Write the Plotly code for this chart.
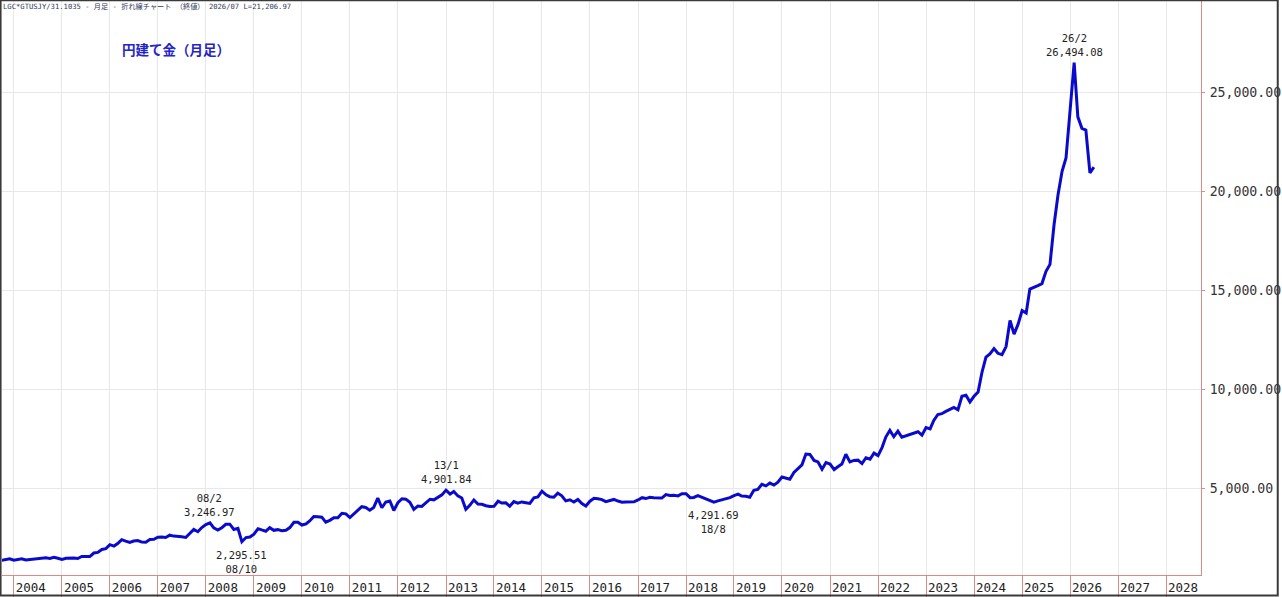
import pandas as pd
import plotly.graph_objects as go

# Data: gold priced in yen per gram (LGC*GTUSJY/31.1035), monthly close, 2003/10 - 2026/07
close_2003 = [1355, 1400, 1435]
close_2004 = [1360, 1390, 1430, 1370, 1390, 1380, 1405, 1430, 1480, 1455, 1505, 1460]
close_2005 = [1405, 1460, 1475, 1470, 1445, 1550, 1545, 1545, 1725, 1755, 1905, 1945]
close_2006 = [2145, 2075, 2200, 2400, 2325, 2260, 2330, 2355, 2275, 2270, 2405, 2420]
close_2007 = [2520, 2535, 2510, 2625, 2580, 2575, 2545, 2510, 2740, 2920, 2800, 3010]
close_2008 = [3160, 3246.97, 2995, 2885, 3005, 3175, 3180, 2915, 2970, 2295.51, 2505, 2535]
close_2009 = [2680, 2955, 2890, 2825, 3005, 2870, 2905, 2855, 2875, 3010, 3280, 3280]
close_2010 = [3140, 3195, 3345, 3565, 3560, 3535, 3285, 3375, 3510, 3510, 3730, 3705]
close_2011 = [3515, 3710, 3845, 4065, 4025, 3890, 4025, 4500, 4010, 4300, 4355, 3875]
close_2012 = [4265, 4465, 4445, 4290, 3930, 4100, 4075, 4255, 4440, 4410, 4545, 4660]
close_2013 = [4901.84, 4700, 4835, 4610, 4500, 3930, 4130, 4405, 4195, 4185, 4115, 4070]
close_2014 = [4080, 4340, 4250, 4260, 4090, 4320, 4240, 4305, 4265, 4230, 4510, 4560]
close_2015 = [4850, 4665, 4570, 4545, 4750, 4615, 4360, 4415, 4300, 4430, 4220, 4100]
close_2016 = [4340, 4485, 4470, 4425, 4320, 4385, 4430, 4350, 4290, 4300, 4320, 4310]
close_2017 = [4405, 4520, 4475, 4540, 4515, 4490, 4500, 4675, 4630, 4640, 4610, 4720]
close_2018 = [4720, 4520, 4530, 4620, 4545, 4460, 4400, 4291.69, 4360, 4410, 4460, 4520]
close_2019 = [4625, 4700, 4605, 4595, 4545, 4890, 4940, 5195, 5115, 5255, 5155, 5300]
close_2020 = [5565, 5500, 5450, 5795, 5995, 6180, 6720, 6700, 6400, 6325, 5960, 6295]
close_2021 = [6220, 5940, 6080, 6220, 6710, 6325, 6400, 6415, 6240, 6535, 6460, 6770]
close_2022 = [6645, 7060, 7580, 7920, 7600, 7880, 7570, 7640, 7720, 7810, 7850, 7680]
close_2023 = [8060, 7990, 8420, 8720, 8760, 8880, 8970, 9080, 8960, 9640, 9690, 9350]
close_2024 = [9640, 9860, 10830, 11620, 11780, 12050, 11810, 11740, 12150, 13470, 12780, 13270]
close_2025 = [13970, 13840, 15050, 15130, 15230, 15330, 15940, 16300, 18300, 19800, 21000, 21670]
close_2026 = [24170, 26494.08, 23750, 23170, 23080, 20920, 21206.97]

close = (close_2003 + close_2004 + close_2005 + close_2006 + close_2007 + close_2008
         + close_2009 + close_2010 + close_2011 + close_2012 + close_2013 + close_2014
         + close_2015 + close_2016 + close_2017 + close_2018 + close_2019 + close_2020
         + close_2021 + close_2022 + close_2023 + close_2024 + close_2025 + close_2026)
months = pd.date_range("2003-10-01", periods=len(close), freq="MS")

# marked highs / lows
mark_dates = ["2008-02-01", "2008-10-01", "2013-01-01", "2018-08-01", "2026-02-01"]
mark_values = [3246.97, 2295.51, 4901.84, 4291.69, 26494.08]
mark_labels = ["08/2", "08/10", "13/1", "18/8", "26/2"]
mark_is_high = [True, False, True, False, True]

years = list(range(2004, 2029))
y_ticks = [5000, 10000, 15000, 20000, 25000]

RED = "#d98a8a"
BLUE = "#0a0acc"
MONO = "DejaVu Sans Mono"

fig = go.Figure()
fig.add_trace(go.Scatter(x=months, y=close, mode="lines",
                         line=dict(color=BLUE, width=3), hoverinfo="x+y"))

for d, v, lab, hi in zip(mark_dates, mark_values, mark_labels, mark_is_high):
    num = f"{v:,.2f}"
    if hi:
        txt = lab + "<br>" + num
        fig.add_annotation(x=d, y=v, text=txt, showarrow=False, yanchor="bottom",
                           yshift=3, font=dict(family=MONO, size=10.5, color="#222"))
    else:
        txt = num + "<br>" + lab
        fig.add_annotation(x=d, y=v, text=txt, showarrow=False, yanchor="top",
                           yshift=-5, font=dict(family=MONO, size=10.5, color="#222"))

# header line and title
fig.add_annotation(xref="paper", yref="paper", x=0, y=1, xanchor="left", yanchor="top",
                   text="LGC*GTUSJY/31.1035 - 月足 - 折れ線チャート （終値） 2026/07 L=21,206.97",
                   showarrow=False, xshift=-1, yshift=1,
                   font=dict(family="DejaVu Sans Mono, Noto Sans CJK JP", size=7.2, color="#34395e"))
fig.add_annotation(xref="paper", yref="paper", x=0.098, y=0.916, xanchor="left",
                   yanchor="middle", text="<b>円建て金（月足）</b>", showarrow=False,
                   font=dict(family="Noto Sans CJK JP", size=13.5, color="#2424c8"))

# outer frame
fig.add_shape(type="rect", xref="paper", yref="paper",
              x0=-0.0012, x1=1.0640, y0=-0.0357, y1=1.0012,
              line=dict(color="#3a3a3a", width=2), layer="above")

fig.update_layout(
    width=1282, height=597,
    margin=dict(l=2, r=77, t=1, b=21),
    paper_bgcolor="white", plot_bgcolor="white",
    showlegend=False,
    xaxis=dict(
        type="date",
        range=["2003-10-03", "2028-09-23"],
        tickmode="array",
        tickvals=[f"{y}-01-01" for y in years],
        ticktext=[str(y) for y in years],
        ticks="outside", ticklen=21, tickcolor=RED, tickwidth=1,
        ticklabelshift=17, ticklabelstandoff=-20,
        tickfont=dict(family=MONO, size=12.5, color="#222"),
        showgrid=True, gridcolor="#e8e8e8", gridwidth=1,
        showline=True, linecolor=RED, linewidth=1,
        zeroline=False, fixedrange=True,
    ),
    yaxis=dict(
        side="right",
        range=[615, 29600],
        tickmode="array",
        tickvals=y_ticks,
        ticktext=[f"{v:,.2f}" for v in y_ticks],
        ticks="outside", ticklen=3, tickcolor=RED,
        ticklabelstandoff=2,
        tickfont=dict(family=MONO, size=13.2, color="#333"),
        showgrid=True, gridcolor="#e8e8e8", gridwidth=1,
        showline=True, linecolor=RED, linewidth=1,
        zeroline=False, fixedrange=True,
    ),
)

fig.write_html("out.html", config={"displayModeBar": False},
               post_script="document.body.style.margin='0px';document.body.style.overflow='hidden';")
